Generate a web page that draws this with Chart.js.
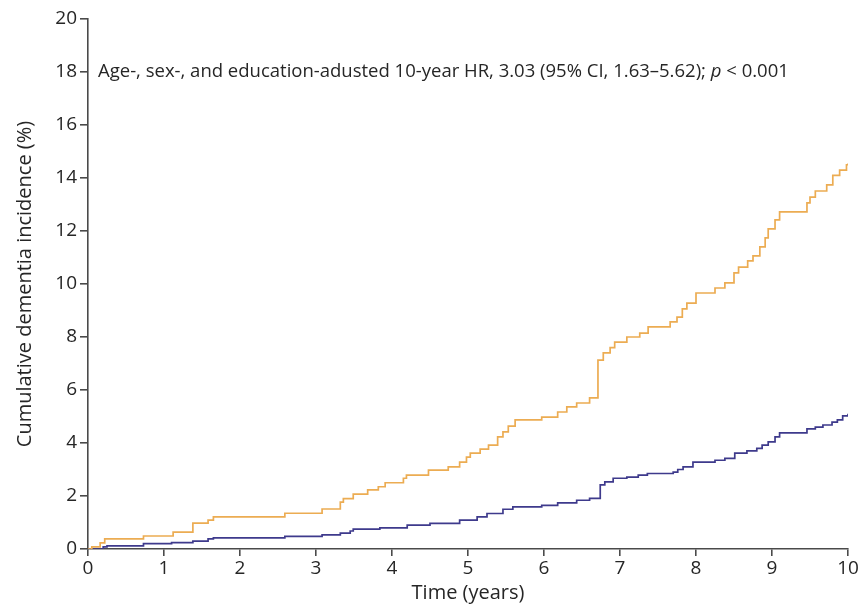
<!DOCTYPE html>
<html>
<head>
<meta charset="utf-8">
<title>Cumulative dementia incidence</title>
<script src="https://cdn.jsdelivr.net/npm/chart.js@4.4.1/dist/chart.umd.min.js"></script>
<style>
  html, body { margin: 0; padding: 0; background: #fff; }
  #wrap { width: 868px; height: 605px; position: relative; }
</style>
</head>
<body>
<div id="wrap"><canvas id="kmChart"></canvas></div>
<script>
// Step curves: event time (years) and cumulative incidence (%) after it
const orangeTimes = [0, 0.05, 0.16, 0.22, 0.73, 1.12, 1.38, 1.58, 1.65, 2.59, 3.08, 3.32, 3.36, 3.49, 3.68,
  3.82, 3.91, 4.15, 4.19, 4.48, 4.74, 4.89, 4.98, 5.03, 5.16, 5.27, 5.39, 5.46, 5.53, 5.62, 5.97,
  6.18, 6.30, 6.43, 6.60, 6.71, 6.78, 6.87, 6.93, 7.09, 7.26, 7.37, 7.66, 7.75, 7.82, 7.88, 8.00,
  8.25, 8.38, 8.50, 8.56, 8.68, 8.75, 8.84, 8.91, 8.95, 9.04, 9.10, 9.46, 9.50, 9.57, 9.72, 9.80,
  9.89, 9.98, 10.0];
const orangeValues = [0, 0.08, 0.23, 0.38, 0.49, 0.64, 0.98, 1.09, 1.21, 1.35, 1.51, 1.77, 1.90, 2.07, 2.23,
  2.35, 2.50, 2.67, 2.79, 2.98, 3.10, 3.28, 3.47, 3.62, 3.77, 3.92, 4.23, 4.42, 4.64, 4.87, 4.98,
  5.17, 5.36, 5.51, 5.70, 7.13, 7.40, 7.60, 7.81, 8.00, 8.15, 8.38, 8.57, 8.75, 9.06, 9.28, 9.66,
  9.85, 10.04, 10.42, 10.64, 10.87, 11.06, 11.40, 11.74, 12.08, 12.42, 12.72, 13.06, 13.28, 13.51, 13.74, 14.10,
  14.30, 14.50, 14.55];

const blueTimes = [0, 0.20, 0.25, 0.73, 1.10, 1.38, 1.58, 1.65, 2.59, 3.08, 3.32, 3.45, 3.49, 3.84, 4.20,
  4.50, 4.89, 5.12, 5.25, 5.46, 5.59, 5.97, 6.18, 6.43, 6.60, 6.74, 6.80, 6.91, 7.09, 7.24, 7.36,
  7.70, 7.76, 7.83, 7.96, 8.25, 8.38, 8.51, 8.67, 8.80, 8.87, 8.95, 9.04, 9.10, 9.46, 9.57, 9.67,
  9.79, 9.86, 9.93, 10.0];
const blueValues = [0, 0.08, 0.12, 0.20, 0.24, 0.30, 0.38, 0.42, 0.48, 0.53, 0.60, 0.68, 0.75, 0.80, 0.90,
  0.97, 1.09, 1.21, 1.34, 1.50, 1.59, 1.65, 1.74, 1.84, 1.91, 2.42, 2.53, 2.67, 2.71, 2.79, 2.85,
  2.90, 3.00, 3.10, 3.28, 3.35, 3.42, 3.62, 3.70, 3.80, 3.92, 4.04, 4.23, 4.38, 4.53, 4.60, 4.68,
  4.79, 4.87, 5.02, 5.10];

const xTicks = [0, 1, 2, 3, 4, 5, 6, 7, 8, 9, 10];
const yTicks = [0, 2, 4, 6, 8, 10, 12, 14, 16, 18, 20];

const annotation = 'Age-, sex-, and education-adusted 10-year HR, 3.03 (95% CI, 1.63\u20135.62); ';

const AXIS_COLOR = '#4a4a4a';
const TEXT_COLOR = '#262626';
const FONT = "'Open Sans', 'Noto Sans', sans-serif";

function toPoints(times, values) {
    return times.map((t, i) => ({ x: t, y: values[i] }));
}

// Draws the HR note at the y = 18 level
const notePlugin = {
    id: 'hrNote',
    afterDraw(chart) {
        const ctx = chart.ctx;
        const y = chart.scales.y.getPixelForValue(18);
        let x = chart.chartArea.left + 10;
        ctx.save();
        ctx.fillStyle = TEXT_COLOR;
        ctx.textBaseline = 'middle';
        ctx.font = `18.5px ${FONT}`;
        ctx.fillText(annotation, x, y);
        x += ctx.measureText(annotation).width;
        ctx.font = `italic 18.5px ${FONT}`;
        ctx.fillText('p', x, y);
        x += ctx.measureText('p').width;
        ctx.font = `18.5px ${FONT}`;
        ctx.fillText(' < 0.001', x, y);
        ctx.restore();
    }
};

const ctx = document.getElementById('kmChart').getContext('2d');
new Chart(ctx, {
    type: 'line',
    data: {
        datasets: [
            {
                label: 'Orange group',
                data: toPoints(orangeTimes, orangeValues),
                borderColor: 'rgb(236, 172, 82)',
                borderWidth: 1.7,
                stepped: true,
                pointRadius: 0,
                fill: false
            },
            {
                label: 'Blue group',
                data: toPoints(blueTimes, blueValues),
                borderColor: 'rgb(62, 58, 140)',
                borderWidth: 1.7,
                stepped: true,
                pointRadius: 0,
                fill: false
            }
        ]
    },
    options: {
        responsive: true,
        maintainAspectRatio: false,
        animation: false,
        layout: {
            padding: { left: 0, right: 20, top: 19, bottom: 0 }
        },
        plugins: {
            legend: { display: false },
            tooltip: { enabled: false }
        },
        scales: {
            x: {
                type: 'linear',
                min: 0,
                max: 10,
                afterBuildTicks: (scale) => { scale.ticks = xTicks.map(v => ({ value: v })); },
                afterFit: (scale) => { scale.height = 56; },
                border: { color: AXIS_COLOR, width: 1.6 },
                grid: { drawOnChartArea: false, drawTicks: true, tickLength: 7, color: AXIS_COLOR, lineWidth: 1.6 },
                ticks: { color: TEXT_COLOR, font: { family: FONT, size: 19 }, padding: 1, maxRotation: 0 },
                title: {
                    display: true,
                    text: 'Time (years)',
                    color: TEXT_COLOR,
                    font: { family: FONT, size: 20 },
                    padding: { top: 0, bottom: 0 }
                }
            },
            y: {
                type: 'linear',
                min: 0,
                max: 20,
                afterBuildTicks: (scale) => { scale.ticks = yTicks.map(v => ({ value: v })); },
                afterFit: (scale) => { scale.width = 88; },
                border: { color: AXIS_COLOR, width: 1.6 },
                grid: { drawOnChartArea: false, drawTicks: true, tickLength: 8, color: AXIS_COLOR, lineWidth: 1.6 },
                ticks: { color: TEXT_COLOR, font: { family: FONT, size: 19 }, padding: 3 },
                title: {
                    display: true,
                    text: 'Cumulative dementia incidence (%)',
                    color: TEXT_COLOR,
                    font: { family: FONT, size: 20 },
                    padding: { top: 13, bottom: 0 }
                }
            }
        }
    },
    plugins: [notePlugin]
});
</script>
</body>
</html>
